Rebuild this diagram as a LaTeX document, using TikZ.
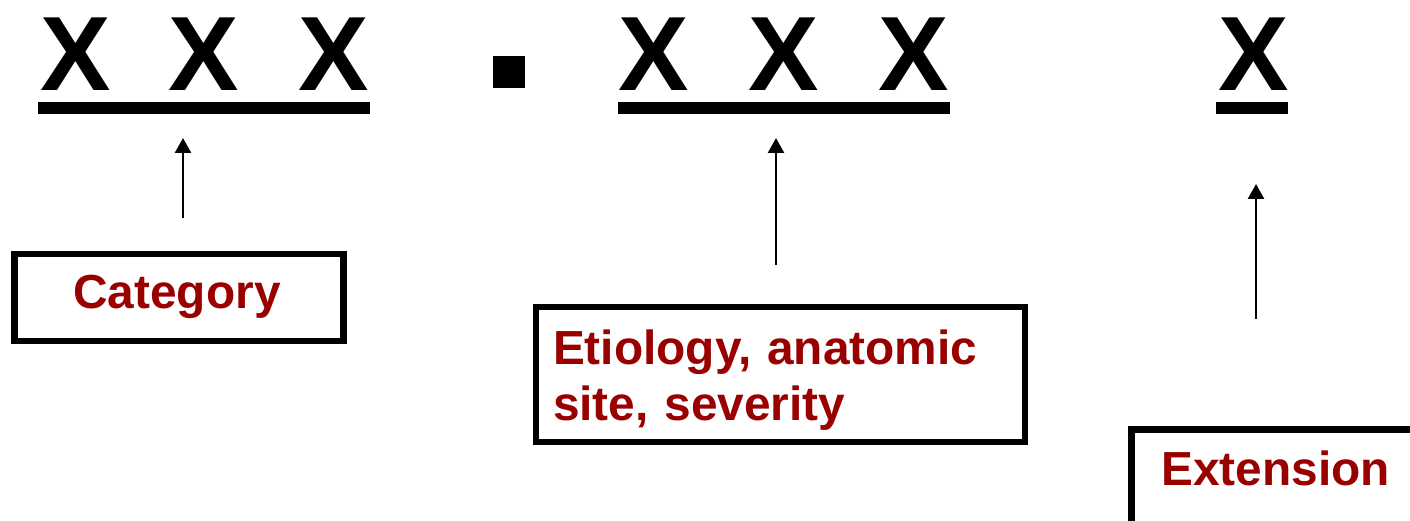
\documentclass[tikz,border=0pt]{standalone}
\usepackage{fontspec}
\setmainfont{Liberation Sans}
\usetikzlibrary{arrows.meta}
\definecolor{labelred}{RGB}{153,0,0}
\begin{document}
\begin{tikzpicture}[x=1bp,y=-1bp,
  codechar/.style={font=\bfseries\fontsize{106}{106}\selectfont, inner sep=0pt, anchor=base},
  bar/.style={fill=black},
  labelbox/.style={draw=black, line width=6.5bp, inner sep=0pt,
    font=\bfseries\fontsize{48}{57}\selectfont, text=labelred},
  ptr/.style={line width=2.5bp, -{Triangle[width=16bp,length=15bp]}}]
  \useasboundingbox (0,0) rectangle (1410,521);
  \clip (0,0) rectangle (1410,521);

  % code characters
  \node[codechar] (c1) at (75.5,91) {X};
  \node[codechar] (c2) at (204,91) {X};
  \node[codechar] (c3) at (334,91) {X};
  \node[fill=black, minimum size=32bp, inner sep=0pt] (dot) at (509,72) {};
  \node[codechar] (c4) at (653.5,91) {X};
  \node[codechar] (c5) at (784,91) {X};
  \node[codechar] (c6) at (914,91) {X};
  \node[codechar] (c7) at (1253.5,91) {X};

  % underlines
  \fill[bar] (38,102) rectangle (370,114);
  \fill[bar] (618,102) rectangle (950,114);
  \fill[bar] (1216,102) rectangle (1288,114);

  % label boxes
  \node[labelbox, minimum width=329bp, minimum height=87bp,
        text height=34bp, text depth=13bp] (cat) at (179,297.5) {Category\hspace*{4bp}};
  \node[labelbox, minimum width=489bp, minimum height=135bp,
        text width=455bp, align=left, xshift=2bp] (eti) at (778.5,374.5)
        {\rule{0pt}{46bp}Etiology, anatomic\\site, severity};
  \node[labelbox, minimum width=294bp, minimum height=110bp,
        text height=34bp, text depth=32bp, anchor=north west] (ext) at (1128,426)
        {Extension\hspace*{5bp}};

  % pointers
  \coordinate (p1s) at (183,218);
  \coordinate (p1e) at (183,138);
  \coordinate (p2s) at (776,265);
  \coordinate (p2e) at (776,138);
  \coordinate (p3s) at (1256,319);
  \coordinate (p3e) at (1256,184);
  \draw[ptr] (p1s) -- (p1e);
  \draw[ptr] (p2s) -- (p2e);
  \draw[ptr] (p3s) -- (p3e);
\end{tikzpicture}
\end{document}
